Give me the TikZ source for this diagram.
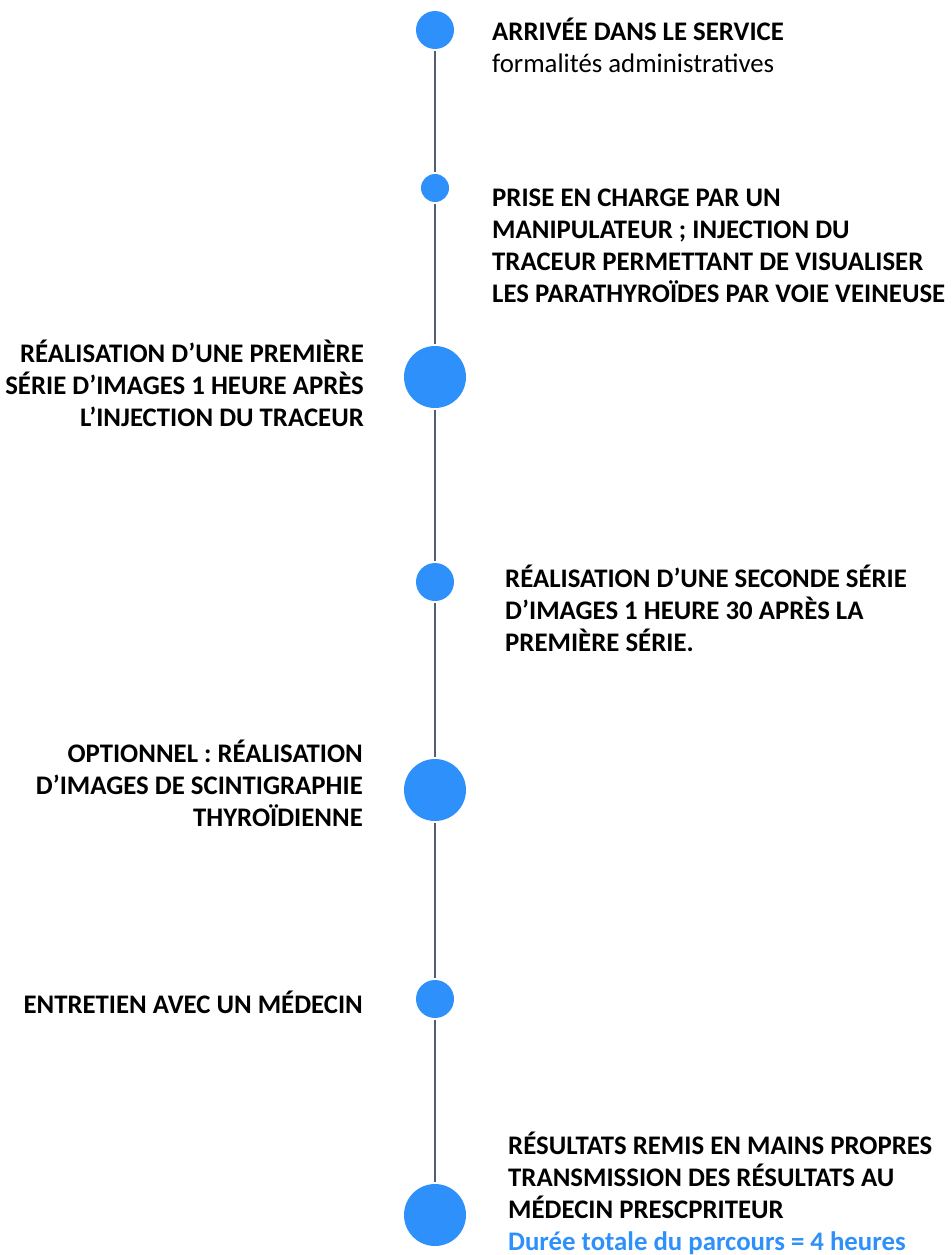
\documentclass[tikz,border=0pt]{standalone}
\usepackage{fontspec}
\setmainfont{Carlito}
\definecolor{dotblue}{RGB}{46,144,250}
\definecolor{spinegray}{RGB}{84,94,114}
\tikzset{
  dot/.style={circle, fill=dotblue, inner sep=0pt},
  spine/.style={draw=spinegray, line width=2.5pt, shorten >=1.5pt, shorten <=1.5pt},
  steptext/.style={inner sep=0pt, font=\fontsize{26.8}{31.8}\selectfont\bfseries}
}
\begin{document}
\begin{tikzpicture}[x=1pt,y=-1pt]
\useasboundingbox (0,0) rectangle (951,1255);

% the dots of the timeline
\node[dot, minimum size=38] (c1) at (435,30) {};
\node[dot, minimum size=28] (c2) at (435,188) {};
\node[dot, minimum size=62] (c3) at (435,377) {};
\node[dot, minimum size=38] (c4) at (435,582) {};
\node[dot, minimum size=62] (c5) at (435,790) {};
\node[dot, minimum size=38] (c6) at (435,999) {};
\node[dot, minimum size=62] (c7) at (435,1215) {};

\foreach \a/\b in {c1/c2,c2/c3,c3/c4,c4/c5,c5/c6,c6/c7}
  \draw[spine] (\a) -- (\b);

% texts on the right (placed by the baseline of their last line)
\node[steptext, anchor=base west, align=left] (t1) at (492,72)
  {ARRIVÉE DANS LE SERVICE\\\mdseries formalités administratives};
\node[steptext, anchor=base west, align=left] (t2) at (492,302)
  {PRISE EN CHARGE PAR UN\\MANIPULATEUR ; INJECTION DU\\TRACEUR PERMETTANT DE VISUALISER\\LES PARATHYROÏDES PAR VOIE VEINEUSE};
\node[steptext, anchor=base west, align=left] (t4) at (505,651)
  {RÉALISATION D’UNE SECONDE SÉRIE\\D’IMAGES 1 HEURE 30 APRÈS LA\\PREMIÈRE SÉRIE.};
\node[steptext, anchor=base west, align=left] (t7) at (508,1250)
  {RÉSULTATS REMIS EN MAINS PROPRES\\TRANSMISSION DES RÉSULTATS AU\\MÉDECIN PRESCPRITEUR\\\color{dotblue}Durée totale du parcours = 4 heures};

% texts on the left
\node[steptext, anchor=base east, align=right] (t3) at (364,426)
  {RÉALISATION D’UNE PREMIÈRE\\SÉRIE D’IMAGES 1 HEURE APRÈS\\L’INJECTION DU TRACEUR};
\node[steptext, anchor=base east, align=right] (t5) at (363,826)
  {OPTIONNEL : RÉALISATION\\D’IMAGES DE SCINTIGRAPHIE\\THYROÏDIENNE};
\node[steptext, anchor=base east] (t6) at (363,1013)
  {ENTRETIEN AVEC UN MÉDECIN};

\end{tikzpicture}
\end{document}
